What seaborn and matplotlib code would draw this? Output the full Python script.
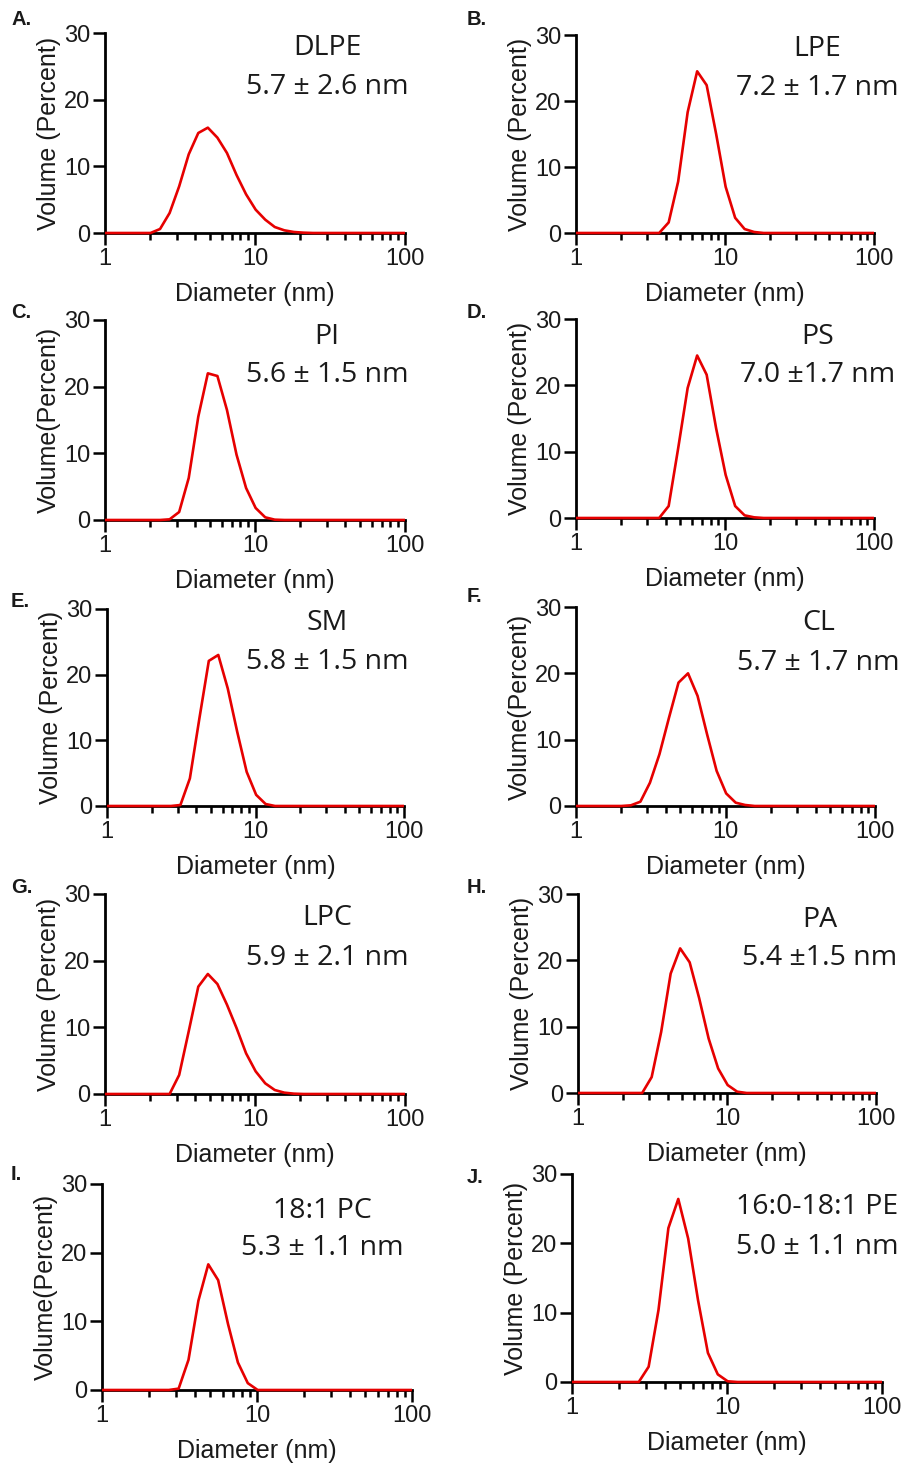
import numpy as np
import matplotlib
matplotlib.use("Agg")
import matplotlib.pyplot as plt
import seaborn as sns
from matplotlib.transforms import Bbox, TransformedBbox

sns.set_theme(style="ticks")
plt.rcParams["font.family"] = ["Liberation Sans", "DejaVu Sans"]

# DLS size bins (nm)
sizes = [0.9649, 1.117, 1.294, 1.499, 1.736, 2.010, 2.328, 2.696, 3.122, 3.615,
         4.187, 4.849, 5.615, 6.503, 7.531, 8.721, 10.10, 11.70, 13.54, 15.69,
         18.17, 21.04, 24.36, 28.21, 32.67, 37.84, 43.82, 50.75, 58.77, 68.06,
         78.82, 91.28, 105.7]

# volume percent per bin
dlpe = [0, 0, 0, 0, 0, 0, 0.6, 3.0, 7.0, 11.8, 15.0, 15.8, 14.3, 12.0, 8.7, 5.8,
        3.5, 2.0, 0.9, 0.4, 0.15, 0.05, 0, 0, 0, 0, 0, 0, 0, 0, 0, 0, 0]
lpe = [0, 0, 0, 0, 0, 0, 0, 0, 0, 0, 1.6, 7.8, 18.3, 24.5, 22.4, 15.0,
       7.0, 2.3, 0.6, 0.15, 0, 0, 0, 0, 0, 0, 0, 0, 0, 0, 0, 0, 0]
pi = [0, 0, 0, 0, 0, 0, 0, 0.1, 1.2, 6.3, 15.5, 22.0, 21.6, 16.5, 9.8, 4.8,
      1.8, 0.4, 0.05, 0, 0, 0, 0, 0, 0, 0, 0, 0, 0, 0, 0, 0, 0]
ps = [0, 0, 0, 0, 0, 0, 0, 0, 0, 0, 1.8, 10.5, 19.6, 24.5, 21.6, 13.5,
      6.5, 1.8, 0.4, 0.1, 0, 0, 0, 0, 0, 0, 0, 0, 0, 0, 0, 0, 0]
sm = [0, 0, 0, 0, 0, 0, 0, 0, 0.15, 4.2, 13.3, 22.1, 23.0, 17.9, 11.3, 5.2,
      1.7, 0.3, 0, 0, 0, 0, 0, 0, 0, 0, 0, 0, 0, 0, 0, 0, 0]
cl = [0, 0, 0, 0, 0, 0, 0.1, 0.65, 3.5, 7.8, 13.3, 18.6, 20.0, 16.6, 10.8, 5.3,
      1.9, 0.5, 0.15, 0, 0, 0, 0, 0, 0, 0, 0, 0, 0, 0, 0, 0, 0]
lpc = [0, 0, 0, 0, 0, 0, 0, 0, 2.85, 9.4, 16.1, 18.0, 16.5, 13.4, 9.9, 6.1,
       3.4, 1.6, 0.6, 0.2, 0.05, 0, 0, 0, 0, 0, 0, 0, 0, 0, 0, 0, 0]
pa = [0, 0, 0, 0, 0, 0, 0, 0, 2.4, 9.2, 18.0, 21.8, 19.7, 14.3, 8.2, 3.7,
      1.2, 0.2, 0, 0, 0, 0, 0, 0, 0, 0, 0, 0, 0, 0, 0, 0, 0]
pc181 = [0, 0, 0, 0, 0, 0, 0, 0, 0.2, 4.4, 13.0, 18.3, 16.0, 9.6, 4.0, 1.0,
         0, 0, 0, 0, 0, 0, 0, 0, 0, 0, 0, 0, 0, 0, 0, 0, 0]
pe1618 = [0, 0, 0, 0, 0, 0, 0, 0, 2.2, 10.4, 22.2, 26.4, 20.7, 11.8, 4.2, 1.1,
          0.1, 0, 0, 0, 0, 0, 0, 0, 0, 0, 0, 0, 0, 0, 0, 0, 0]

letters = ["A.", "B.", "C.", "D.", "E.", "F.", "G.", "H.", "I.", "J."]
names = ["DLPE", "LPE", "PI", "PS", "SM", "CL", "LPC", "PA", "18:1 PC", "16:0-18:1 PE"]
stats = ["5.7 ± 2.6 nm", "7.2 ± 1.7 nm", "5.6 ± 1.5 nm", "7.0 ±1.7 nm", "5.8 ± 1.5 nm",
         "5.7 ± 1.7 nm", "5.9 ± 2.1 nm", "5.4 ±1.5 nm", "5.3 ± 1.1 nm", "5.0 ± 1.1 nm"]
series = [dlpe, lpe, pi, ps, sm, cl, lpc, pa, pc181, pe1618]
ylabels = ["Volume (Percent)", "Volume (Percent)", "Volume(Percent)", "Volume (Percent)",
           "Volume (Percent)", "Volume(Percent)", "Volume (Percent)", "Volume (Percent)",
           "Volume(Percent)", "Volume (Percent)"]
xlabels = ["Diameter (nm)"] * 10

W, H = 910, 1468
# axes boxes in pixels: left, top, right, bottom
boxes = [(105, 33, 405, 233), (576, 35, 874, 233),
         (105, 320, 405, 520), (576, 319, 874, 518),
         (107, 609, 404, 806), (576, 607, 875, 806),
         (105, 894, 405, 1094), (578, 894, 876, 1093),
         (102, 1184, 412, 1390), (572, 1174, 882, 1382)]
letter_pos = [(11, 25), (467, 25), (11, 318), (467, 318), (11, 607),
              (467, 602), (11, 893), (467, 893), (11, 1180), (467, 1183)]
text_x = [0.74, 0.81, 0.74, 0.81, 0.74, 0.81, 0.74, 0.81, 0.71, 0.79]
text_y = [(0.925, 0.73), (0.93, 0.73), (0.915, 0.725), (0.91, 0.72), (0.93, 0.73),
          (0.92, 0.72), (0.88, 0.68), (0.87, 0.68), (0.87, 0.69), (0.84, 0.65)]

red = "#e60000"
ink = "#1a1a1a"
fig = plt.figure(figsize=(W / 100, H / 100), dpi=100)

for i in range(10):
    l, t, r, b = boxes[i]
    ax = fig.add_axes([l / W, 1 - b / H, (r - l) / W, (b - t) / H])
    ax.set_xscale("log")
    sns.lineplot(x=sizes, y=series[i], ax=ax, color=red, linewidth=1.9,
                 sort=False, zorder=5)
    line = ax.get_lines()[0]
    line.set_clip_box(TransformedBbox(Bbox([[0, -0.05], [1, 1.05]]), ax.transAxes))
    ax.set_xlim(1, 100)
    ax.set_ylim(0, 30)
    ax.set_yticks([0, 10, 20, 30])
    ax.set_xticks([1, 10, 100])
    ax.set_xticklabels(["1", "10", "100"])
    sns.despine(ax=ax)
    for s in ["left", "bottom"]:
        ax.spines[s].set_linewidth(2.0)
        ax.spines[s].set_color("black")
    ax.tick_params(which="major", length=8.5, width=1.8, color="black",
                   labelsize=17, pad=2, labelcolor=ink)
    ax.tick_params(which="minor", axis="x", length=5, width=1.8, color="black")
    ax.set_ylabel(ylabels[i], fontsize=18, labelpad=2, color=ink)
    ax.set_xlabel(xlabels[i], fontsize=18, labelpad=9, color=ink)
    ax.text(text_x[i], text_y[i][0], names[i], transform=ax.transAxes,
            ha="center", va="center", fontsize=20.5, family="Open Sans", color=ink)
    ax.text(text_x[i], text_y[i][1], stats[i], transform=ax.transAxes,
            ha="center", va="center", fontsize=20.5, family="Open Sans", color=ink)
    fig.text(letter_pos[i][0] / W, 1 - letter_pos[i][1] / H, letters[i],
             fontsize=14.5, fontweight="bold", ha="left", va="baseline", color=ink)

fig.savefig("out.png", dpi=100)
